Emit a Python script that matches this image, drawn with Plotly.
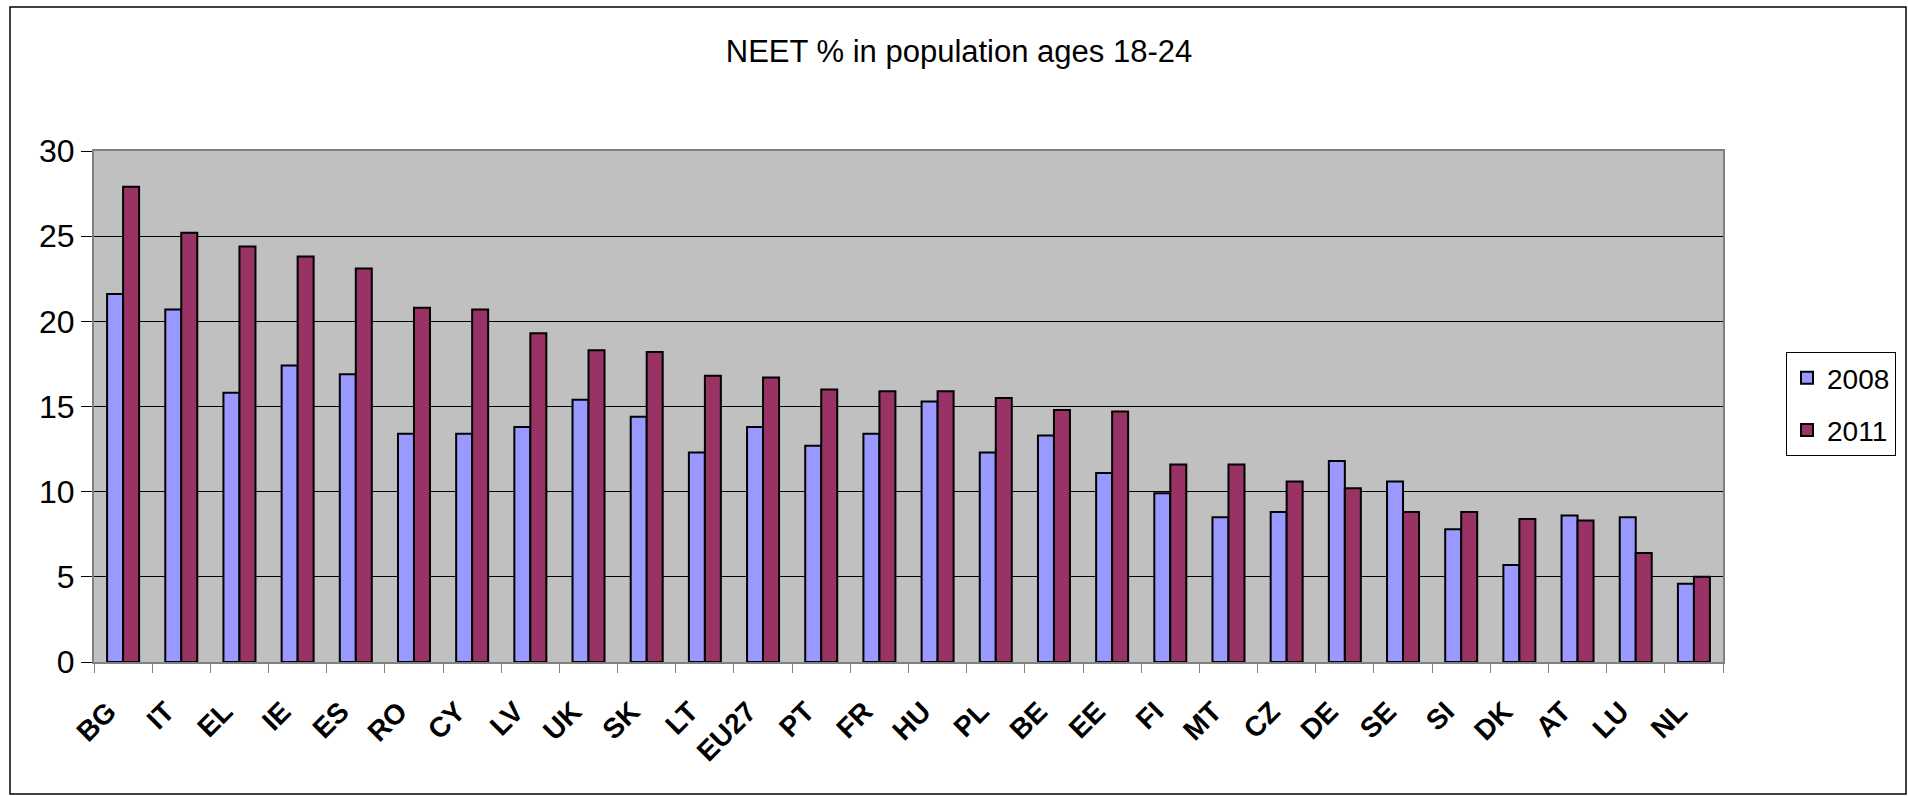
import plotly.graph_objects as go

categories = ["BG", "IT", "EL", "IE", "ES", "RO", "CY", "LV", "UK", "SK", "LT", "EU27", "PT", "FR",
              "HU", "PL", "BE", "EE", "FI", "MT", "CZ", "DE", "SE", "SI", "DK", "AT", "LU", "NL"]
values_2008 = [21.6, 20.7, 15.8, 17.4, 16.9, 13.4, 13.4, 13.8, 15.4, 14.4, 12.3, 13.8, 12.7, 13.4,
               15.3, 12.3, 13.3, 11.1, 9.9, 8.5, 8.8, 11.8, 10.6, 7.8, 5.7, 8.6, 8.5, 4.6]
values_2011 = [27.9, 25.2, 24.4, 23.8, 23.1, 20.8, 20.7, 19.3, 18.3, 18.2, 16.8, 16.7, 16.0, 15.9,
               15.9, 15.5, 14.8, 14.7, 11.6, 11.6, 10.6, 10.2, 8.8, 8.8, 8.4, 8.3, 6.4, 5.0]
series_names = ["2008", "2011"]
series_colors = ["#9999FF", "#993366"]

W, H = 1908, 796
L, R, T, B = 94, 1723, 151, 662   # plot area in pixels
pw, ph = R - L, B - T

FONT = "Arial, Liberation Sans, sans-serif"

fig = go.Figure()
for name, vals, col in zip(series_names, [values_2008, values_2011], series_colors):
    fig.add_trace(go.Bar(
        x=categories, y=vals, name=name, legendgroup=name,
        marker=dict(color=col, line=dict(color="black", width=2)),
    ))

def px_x(p):
    return (p - L) / pw

def px_y(p):
    return (B - p) / ph

fig.update_layout(
    width=W, height=H,
    margin=dict(l=L, r=W - R, t=T, b=H - B, pad=0),
    paper_bgcolor="white",
    plot_bgcolor="#C0C0C0",
    font=dict(family=FONT, color="black"),
    barmode="group", bargap=0.45, bargroupgap=0,
    title=dict(text="NEET % in population ages 18-24", x=959 / W, xanchor="center",
               y=1 - 51 / H, yanchor="middle", font=dict(size=31, family=FONT, color="black")),
    legend=dict(x=px_x(1786), y=px_y(352), xanchor="left", yanchor="top",
                bordercolor="black", borderwidth=1, bgcolor="white",
                font=dict(size=28, family=FONT, color="black"),
                tracegroupgap=13, traceorder="grouped"),
    xaxis=dict(showline=True, linecolor="#808080", linewidth=2, mirror=True,
               ticks="outside", tickson="boundaries", ticklen=9, tickcolor="#808080", tickwidth=1,
               tickangle=-45, ticklabelstandoff=20, ticklabelshift=-15,
               tickfont=dict(size=28, family=FONT, color="black", weight="bold"),
               showgrid=False, zeroline=False, fixedrange=True),
    yaxis=dict(range=[0, 30], dtick=5, showline=True, linecolor="#808080", linewidth=2, mirror=True,
               ticks="outside", ticklen=11, tickcolor="black", tickwidth=1,
               tickfont=dict(size=32, family=FONT, color="black"),
               showgrid=True, gridcolor="black", gridwidth=1, zeroline=False),
    shapes=[dict(type="rect", xref="paper", yref="paper",
                 x0=px_x(10), x1=px_x(1906), y0=px_y(794), y1=px_y(7),
                 line=dict(color="black", width=1.5), fillcolor="rgba(0,0,0,0)", layer="below")],
)

fig.write_html("out.html", config={"displayModeBar": False},
               post_script="document.body.style.margin='0';document.body.style.overflow='hidden';")
